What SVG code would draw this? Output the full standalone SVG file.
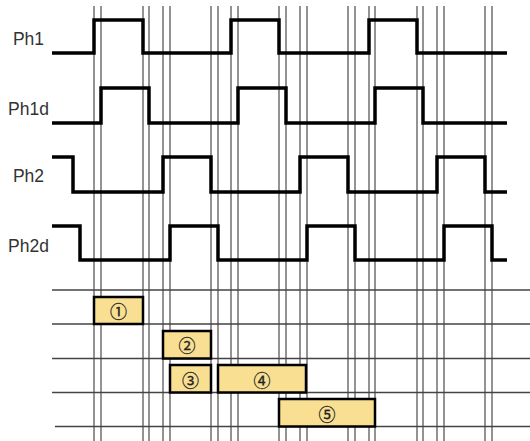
<svg xmlns="http://www.w3.org/2000/svg" width="530" height="441" viewBox="0 0 530 441">
<style>
.bg{fill:#ffffff}
.vl{stroke:#5a5a5a;stroke-width:1.3;fill:none}
.hl{stroke:#444;stroke-width:1.3;fill:none}
.wave{stroke:#000;stroke-width:3.5;fill:none;stroke-linejoin:miter;stroke-linecap:butt}
.lbl{font-family:"Liberation Sans",Arial,sans-serif;font-size:17.5px;fill:#333;text-anchor:middle}
.box{fill:#F9DF92;stroke:#000;stroke-width:2.5}
.num{font-family:"Noto Sans CJK KR","DejaVu Sans",sans-serif;font-size:17px;fill:#222;stroke:#222;stroke-width:0.3;text-anchor:middle;dominant-baseline:central}
</style>
<rect class="bg" x="0" y="0" width="530" height="441"/>
<g id="grid">
<path class="vl" d="M94,6V441 M101,6V441 M143,6V441 M149,6V441 M163,6V441 M170,6V441 M211,6V441 M218,6V441 M231,6V441 M238,6V441 M279,6V441 M286,6V441 M300,6V441 M307,6V441 M348,6V441 M355,6V441 M369,6V441 M375,6V441 M417,6V441 M423,6V441 M437,6V441 M444,6V441 M485,6V441 M492,6V441"/>
<path class="hl" d="M52,290H530 M52,324H530 M52,358.5H530 M52,392.5H530 M55,426.5H530"/>
</g>
<g id="Ph1">
<text class="lbl" x="28.5" y="45">Ph1</text>
<path class="wave" d="M52,53H94V20H143V53H231V20H279V53H369V20H417V53H507"/>
</g>
<g id="Ph1d">
<text class="lbl" x="28.5" y="115">Ph1d</text>
<path class="wave" d="M52,123H101V88H149V123H238V88H286V123H375V88H423V123H507"/>
</g>
<g id="Ph2">
<text class="lbl" x="28.5" y="182">Ph2</text>
<path class="wave" d="M52,157H73V192H163V157H211V192H300V157H348V192H437V157H485V192H507"/>
</g>
<g id="Ph2d">
<text class="lbl" x="28.5" y="252">Ph2d</text>
<path class="wave" d="M52,226H80V260H170V226H218V260H307V226H355V260H444V226H492V260H507"/>
</g>
<g id="box1">
<rect class="box" x="94" y="297" width="49" height="27"/>
<text class="num" x="118.5" y="310.5">①</text>
</g>
<g id="box2">
<rect class="box" x="163" y="331" width="48" height="27.5"/>
<text class="num" x="187" y="344.5">②</text>
</g>
<g id="box3">
<rect class="box" x="170" y="365" width="41" height="27.5"/>
<text class="num" x="190.5" y="379">③</text>
</g>
<g id="box4">
<rect class="box" x="218" y="365" width="88" height="27.5"/>
<text class="num" x="262" y="379">④</text>
</g>
<g id="box5">
<rect class="box" x="279" y="399" width="96" height="27.5"/>
<text class="num" x="327" y="413">⑤</text>
</g>
</svg>
